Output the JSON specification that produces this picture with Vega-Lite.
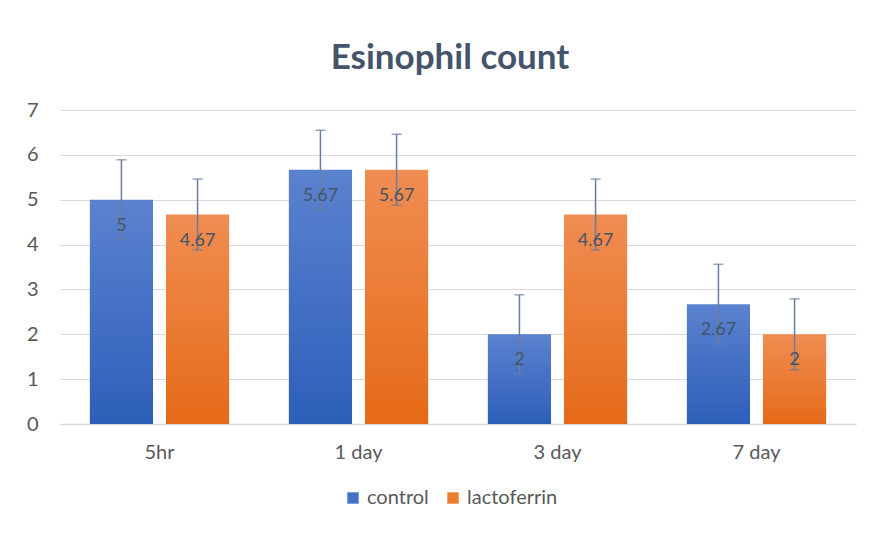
{
  "$schema": "https://vega.github.io/schema/vega-lite/v6.json",
  "width": 796,
  "height": 314,
  "padding": {"left": 24, "top": 41, "right": 18, "bottom": 10},
  "background": "white",
  "config": {
    "font": "Lato",
    "view": {"stroke": null},
    "axis": {"labelFont": "Lato", "labelFontSize": 20, "labelColor": "#595959", "titleFont": "Lato"},
    "legend": {"labelFont": "Lato"}
  },
  "title": {
    "text": "Esinophil count",
    "font": "Lato",
    "fontSize": 35,
    "fontWeight": "bold",
    "color": "#44546A",
    "anchor": "middle",
    "dx": -8,
    "offset": 24
  },
  "data": {
    "values": [
      {"time": "5hr", "group": "control", "value": 5, "lo": 4.12, "hi": 5.89},
      {"time": "5hr", "group": "lactoferrin", "value": 4.67, "lo": 3.88, "hi": 5.46},
      {"time": "1 day", "group": "control", "value": 5.67, "lo": 4.79, "hi": 6.55},
      {"time": "1 day", "group": "lactoferrin", "value": 5.67, "lo": 4.88, "hi": 6.46},
      {"time": "3 day", "group": "control", "value": 2, "lo": 1.12, "hi": 2.88},
      {"time": "3 day", "group": "lactoferrin", "value": 4.67, "lo": 3.88, "hi": 5.46},
      {"time": "7 day", "group": "control", "value": 2.67, "lo": 1.79, "hi": 3.56},
      {"time": "7 day", "group": "lactoferrin", "value": 2, "lo": 1.21, "hi": 2.79}
    ]
  },
  "encoding": {
    "x": {
      "field": "time",
      "type": "nominal",
      "sort": ["5hr", "1 day", "3 day", "7 day"],
      "scale": {"paddingInner": 0.3, "paddingOuter": 0.15},
      "axis": {"title": null, "labelAngle": 0, "ticks": false, "domain": true, "domainColor": "#D9D9D9", "domainWidth": 1.5, "labelPadding": 18}
    },
    "xOffset": {
      "field": "group",
      "type": "nominal",
      "scale": {"domain": ["control", "lactoferrin"], "paddingInner": 0.17, "paddingOuter": 0}
    },
    "y": {
      "field": "value",
      "type": "quantitative",
      "scale": {"domain": [0, 7], "nice": false},
      "axis": {"title": null, "values": [0, 1, 2, 3, 4, 5, 6, 7], "domain": false, "ticks": false, "gridColor": "#D9D9D9", "gridWidth": 1.2, "labelPadding": 22, "minExtent": 36, "maxExtent": 36}
    }
  },
  "layer": [
    {
      "transform": [{"filter": "datum.group === 'control'"}],
      "mark": {
        "type": "bar",
        "color": {"gradient": "linear", "x1": 0, "y1": 0, "x2": 0, "y2": 1, "stops": [{"offset": 0, "color": "#5B82CF"}, {"offset": 1, "color": "#2D5FB9"}]}
      }
    },
    {
      "transform": [{"filter": "datum.group === 'lactoferrin'"}],
      "mark": {
        "type": "bar",
        "color": {"gradient": "linear", "x1": 0, "y1": 0, "x2": 0, "y2": 1, "stops": [{"offset": 0, "color": "#F08D52"}, {"offset": 1, "color": "#E56A18"}]}
      }
    },
    {
      "mark": {"type": "square", "opacity": 0},
      "encoding": {
        "color": {
          "field": "group",
          "type": "nominal",
          "sort": ["control", "lactoferrin"],
          "scale": {"range": ["#4472C4", "#ED7D31"]},
          "legend": {
            "title": null,
            "orient": "none",
            "legendX": 283,
            "legendY": 378,
            "direction": "horizontal",
            "symbolType": "square",
            "symbolSize": 130,
            "symbolOpacity": 1,
            "labelFontSize": 20,
            "labelColor": "#595959",
            "columnPadding": 14,
            "labelOffset": 4
          }
        }
      }
    },
    {
      "mark": {"type": "rule", "color": "#6A7D9C", "strokeWidth": 1.5},
      "encoding": {
        "y": {"field": "lo", "type": "quantitative"},
        "y2": {"field": "hi"}
      }
    },
    {
      "mark": {"type": "tick", "color": "#6A7D9C", "thickness": 1.5, "size": 10, "orient": "horizontal"},
      "encoding": {
        "y": {"field": "hi", "type": "quantitative"}
      }
    },
    {
      "mark": {"type": "tick", "color": "#6A7D9C", "thickness": 1.5, "size": 10, "orient": "horizontal"},
      "encoding": {
        "y": {"field": "lo", "type": "quantitative"}
      }
    },
    {
      "mark": {"type": "text", "fontSize": 18, "color": "#44546A", "baseline": "middle", "dy": 26},
      "encoding": {
        "text": {"field": "value", "type": "quantitative"}
      }
    }
  ]
}
